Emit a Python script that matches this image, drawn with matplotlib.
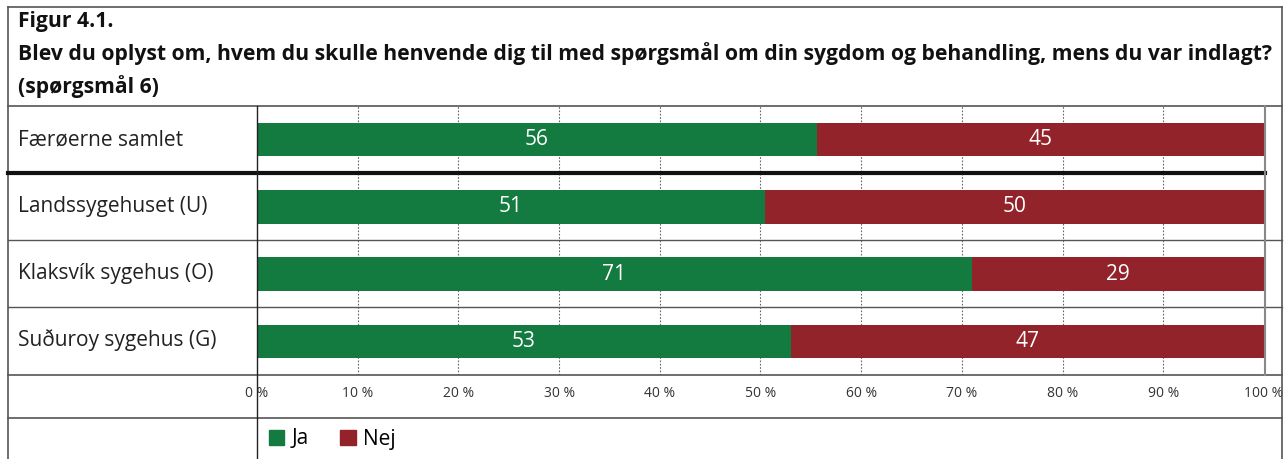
import matplotlib.pyplot as plt
from matplotlib.lines import Line2D
from matplotlib.patches import Patch

# ======================================
# DATA
# ======================================

categories = [
    "Færøerne samlet",
    "Landssygehuset (U)",
    "Klaksvík sygehus (O)",
    "Suðuroy sygehus (G)",
]
ja = [55.6, 50.4, 71.0, 53.0]
nej = [44.4, 49.6, 29.0, 47.0]
ja_labels = ["56", "51", "71", "53"]
nej_labels = ["45", "50", "29", "47"]
ticks = [0, 10, 20, 30, 40, 50, 60, 70, 80, 90, 100]
tick_labels = [f"{t} %" for t in ticks]

title_lines = [
    "Figur 4.1.",
    "Blev du oplyst om, hvem du skulle henvende dig til med spørgsmål om din sygdom og behandling, mens du var indlagt?",
    "(spørgsmål 6)",
]

green = "#137a40"
red = "#92232a"
frame = "#555555"

plt.rcParams["font.family"] = ["Open Sans", "DejaVu Sans"]

W, H = 1285, 459
fig = plt.figure(figsize=(W / 100, H / 100), dpi=100)


def fx(px):
    return px / W


def fy(py):
    return 1 - py / H


# ======================================
# BARS
# ======================================

ax = fig.add_axes([fx(257), fy(375), fx(1265) - fx(257), fy(106) - fy(375)])
y = list(range(len(categories)))
ax.barh(y, ja, height=0.5, color=green)
ax.barh(y, nej, left=ja, height=0.5, color=red)

for i in y:
    ax.text(ja[i] / 2, i, ja_labels[i], color="white", ha="center",
            va="center", fontsize=15)
    ax.text(ja[i] + nej[i] / 2, i, nej_labels[i], color="white",
            ha="center", va="center", fontsize=15)

ax.set_xlim(0, 100.1)
ax.set_ylim(3.5, -0.5)
for t in ticks[1:-1]:
    ax.axvline(t, color="#666666", lw=0.8, ls=(0, (1.5, 1.5)), zorder=0)

ax.set_xticks(ticks)
ax.set_xticklabels(tick_labels, fontsize=10, color="#333333")
ax.tick_params(axis="x", length=0, pad=8)
ax.set_yticks([])
for s in ax.spines.values():
    s.set_visible(False)

# category labels
for i, c in enumerate(categories):
    fig.text(fx(18), fy(106 + 67 * i + 33.5), c, fontsize=15,
             color="#222222", va="center", ha="left")

# title
for k, line in enumerate(title_lines):
    fig.text(fx(18), fy(21 + 33 * k), line, fontsize=15.2,
             fontweight="bold", color="#111111", va="center", ha="left")

# ======================================
# TABLE LINES
# ======================================


def hline(py, x0, x1, color=frame, lw=1.2):
    fig.add_artist(Line2D([fx(x0), fx(x1)], [fy(py), fy(py)],
                          color=color, lw=lw))


def vline(px, y0, y1, color=frame, lw=1.2):
    fig.add_artist(Line2D([fx(px), fx(px)], [fy(y0), fy(y1)],
                          color=color, lw=lw))


hline(7, 8, 1282)
vline(8, 7, 459)
vline(1282, 7, 459)
hline(106, 8, 1282)
hline(173, 8, 1265, color="#111111", lw=3)
hline(240, 8, 1282, lw=1)
hline(307, 8, 1282, lw=1)
hline(375, 8, 1282)
hline(418, 8, 1282)
vline(257, 106, 459, color="#222222", lw=1)
vline(1265, 106, 375, color="#888888", lw=1.5)

# ======================================
# LEGEND
# ======================================

handles = [Patch(color=green, label="Ja"), Patch(color=red, label="Nej")]
fig.legend(handles=handles, loc="center left",
           bbox_to_anchor=(fx(250), fy(439)), ncol=2, frameon=False,
           fontsize=15, handlelength=0.75, handleheight=0.75,
           handletextpad=0.35, columnspacing=1.5)

fig.savefig("out.png", dpi=100)
